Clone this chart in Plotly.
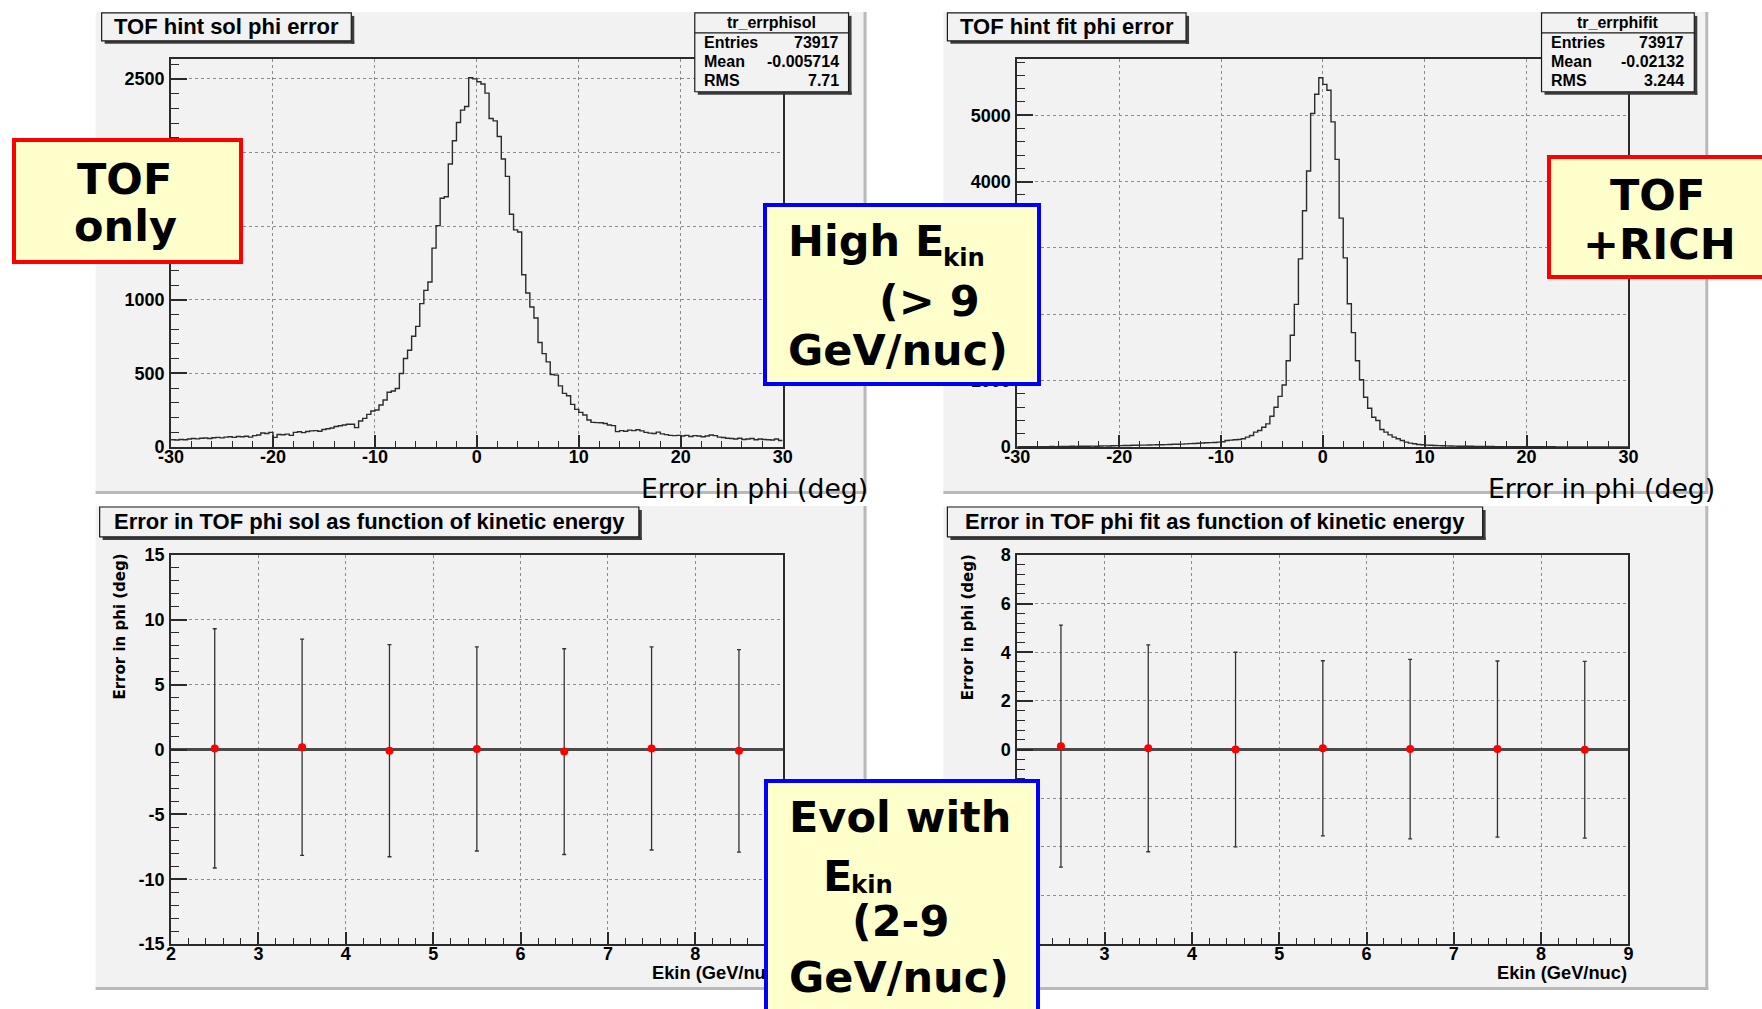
import numpy as np
import plotly.graph_objects as go

W, H = 1762, 1009

# ---------------- data ----------------
phi_lo, phi_hi = -30.0, 30.0   # histogram range (150 bins)

sol_counts = [
    50, 48, 52, 50, 55, 58, 56, 60, 62, 58,
    64, 66, 63, 68, 70, 66, 72, 70, 74, 68,
    78, 82, 96, 92, 100, 66, 86, 84, 88, 80,
    100, 104, 98, 106, 110, 112, 108, 120, 125, 130,
    140, 145, 150, 155, 155, 132, 177, 195, 222, 245,
    252, 286, 320, 372, 381, 398, 500, 602, 658, 753,
    820, 974, 1064, 1121, 1351, 1504, 1690, 1700, 1922, 2080,
    2204, 2288, 2312, 2508, 2500, 2480, 2465, 2403, 2231, 2215,
    2109, 1956, 1838, 1581, 1475, 1460, 1170, 1046, 951, 877,
    710, 635, 579, 493, 489, 416, 365, 349, 290, 256,
    236, 218, 184, 168, 166, 165, 160, 150, 146, 105,
    112, 108, 115, 112, 118, 110, 100, 95, 92, 102,
    90, 85, 80, 78, 80, 75, 80, 72, 78, 75,
    70, 75, 82, 78, 68, 65, 60, 58, 55, 60,
    52, 55, 58, 50, 55, 52, 50, 48, 55, 45,
]

fit_counts = [
    5, 6, 5, 7, 6, 8, 7, 8, 9, 8,
    10, 9, 11, 12, 10, 12, 14, 13, 15, 14,
    16, 18, 17, 20, 22, 22, 24, 25, 27, 28,
    30, 30, 32, 34, 35, 36, 38, 40, 42, 44,
    45, 48, 52, 55, 58, 62, 65, 68, 70, 75,
    80, 100, 105, 110, 115, 125, 150, 175, 225, 250,
    300, 350, 465, 600, 765, 935, 1300, 1685, 2150, 2835,
    3560, 4160, 5025, 5315, 5565, 5465, 5375, 4900, 4335, 3450,
    2850, 2160, 1725, 1300, 1015, 750, 585, 450, 400, 265,
    225, 185, 150, 125, 100, 75, 60, 50, 40, 35,
    30, 28, 25, 22, 20, 18, 17, 15, 14, 13,
    12, 12, 11, 10, 10, 9, 9, 8, 8, 8,
    7, 7, 7, 6, 6, 6, 6, 5, 5, 5,
    5, 5, 4, 4, 4, 4, 4, 4, 3, 3,
    3, 3, 3, 3, 3, 3, 2, 2, 2, 2,
]

ekin = [2.5, 3.5, 4.5, 5.5, 6.5, 7.5, 8.5]
sol_mean = [0.09, 0.18, -0.09, 0.05, -0.16, 0.09, -0.10]
sol_err = [9.22, 8.33, 8.17, 7.87, 7.93, 7.83, 7.80]
fit_mean = [0.14, 0.05, 0.00, 0.05, 0.02, 0.02, -0.01]
fit_err = [4.97, 4.25, 4.00, 3.60, 3.69, 3.62, 3.63]

hist_titles = ["TOF hint sol phi error", "TOF hint fit phi error"]
graph_titles = ["Error in TOF phi sol as function of kinetic energy",
                "Error in TOF phi fit as function of kinetic energy"]
stat_names = ["tr_errphisol", "tr_errphifit"]
stat_labels = ["Entries", "Mean", "RMS"]
stat_sol = ["73917", "-0.005714", "7.71"]
stat_fit = ["73917", "-0.02132", "3.244"]
hist_xtitle = "Error in phi (deg)"
graph_xtitle = "Ekin (GeV/nuc)"
graph_ytitle = "Error in phi (deg)"

phi_ticks = [-30, -20, -10, 0, 10, 20, 30]
sol_yticks = [0, 500, 1000, 1500, 2000, 2500]
fit_yticks = [0, 1000, 2000, 3000, 4000, 5000]
ekin_ticks = [2, 3, 4, 5, 6, 7, 8, 9]
sol_gticks = [-15, -10, -5, 0, 5, 10, 15]
fit_gticks = [-8, -6, -4, -2, 0, 2, 4, 6, 8]

# ---------------- placement helpers ----------------
# positions below are given in picture pixels; the page is photographed
# slightly shrunk about its centre, so compensate for that here.
BX, BY = 0.9884, 0.982
CX, CY = W / 2, H / 2


def px_x(s):
    return CX + (s - CX) / BX


def px_y(s):
    return CY + (s - CY) / BY


def fx(s):
    return px_x(s) / W


def fy(s):
    return 1 - px_y(s) / H


AX_COL = "#2a2a2a"
TICKFONT = dict(family="Liberation Sans", size=18, color="black", weight="bold")
ROOTFONT = "Liberation Sans"
BOXFONT = "DejaVu Sans"


def axis(domain_px, rng, tickvals, minor_dtick, anchor, horizontal, zeroline=False):
    a0, a1 = domain_px
    if horizontal:
        dom = [fx(a0), fx(a1)]
        tl, mtl, so = 12, 6, -8
    else:
        dom = [fy(a1), fy(a0)]
        tl, mtl, so = 16, 8, 1
    return dict(
        domain=dom, range=rng, anchor=anchor,
        tickmode="array", tickvals=tickvals,
        ticktext=[f"{t:g}" for t in tickvals],
        ticks="inside", ticklen=tl, tickwidth=1.5, tickcolor=AX_COL,
        minor=dict(ticks="inside", ticklen=mtl, tickwidth=1.2, tickcolor=AX_COL,
                   tickmode="linear", tick0=rng[0], dtick=minor_dtick, showgrid=False),
        showline=True, mirror=True, linecolor=AX_COL, linewidth=2,
        showgrid=True, gridcolor="#8c8c8c", griddash="dot", gridwidth=1,
        zeroline=zeroline, zerolinecolor="#4a4a4a", zerolinewidth=2.5,
        tickfont=TICKFONT, ticklabelstandoff=so, fixedrange=True,
    )


# frames in picture pixel coordinates: (x0, x1, y0, y1)
F_TL = (168.5, 781, 58.4, 447)
F_TR = (1016, 1628, 58.4, 447)
F_BL = (168.5, 781, 555, 945)
F_BR = (1016, 1628, 555, 945)

fig = go.Figure()

edges = np.linspace(phi_lo, phi_hi, len(sol_counts) + 1)
fig.add_trace(go.Scatter(x=edges, y=sol_counts + [sol_counts[-1]], mode="lines",
                         line=dict(shape="hv", color="#2b2b2b", width=1.4),
                         xaxis="x", yaxis="y", hoverinfo="skip"))
edges2 = np.linspace(phi_lo, phi_hi, len(fit_counts) + 1)
fig.add_trace(go.Scatter(x=edges2, y=fit_counts + [fit_counts[-1]], mode="lines",
                         line=dict(shape="hv", color="#2b2b2b", width=1.4),
                         xaxis="x2", yaxis="y2", hoverinfo="skip"))

for xs, ys, es, xa, ya in [(ekin, sol_mean, sol_err, "x3", "y3"),
                           (ekin, fit_mean, fit_err, "x4", "y4")]:
    fig.add_trace(go.Scatter(x=xs, y=ys, mode="markers",
                             marker=dict(color="#ff0000", size=8),
                             error_y=dict(type="data", array=es, color="#333333",
                                          thickness=1.3, width=2),
                             xaxis=xa, yaxis=ya, hoverinfo="skip"))

layout = dict(
    width=W, height=H, margin=dict(l=0, r=0, t=0, b=0),
    paper_bgcolor="white", plot_bgcolor="#f2f2f2", showlegend=False,
    xaxis=axis((F_TL[0], F_TL[1]), [phi_lo, phi_hi], phi_ticks, 2, "y", True),
    yaxis=axis((F_TL[2], F_TL[3]), [0, 1.05 * max(sol_counts)], sol_yticks, 100, "x", False),
    xaxis2=axis((F_TR[0], F_TR[1]), [phi_lo, phi_hi], phi_ticks, 2, "y2", True),
    yaxis2=axis((F_TR[2], F_TR[3]), [0, 1.05 * max(fit_counts)], fit_yticks, 200, "x2", False),
    xaxis3=axis((F_BL[0], F_BL[1]), [2, 9], ekin_ticks, 0.2, "y3", True),
    yaxis3=axis((F_BL[2], F_BL[3]), [-15, 15], sol_gticks, 1, "x3", False, zeroline=True),
    xaxis4=axis((F_BR[0], F_BR[1]), [2, 9], ekin_ticks, 0.2, "y4", True),
    yaxis4=axis((F_BR[2], F_BR[3]), [-8, 8], fit_gticks, 0.4, "x4", False, zeroline=True),
)
fig.update_layout(**layout)

shapes = []


def rect(x0, x1, y0, y1, **kw):
    return dict(type="rect", xref="paper", yref="paper",
                x0=fx(x0), x1=fx(x1), y0=fy(y1), y1=fy(y0), **kw)


# pads
for (x0, x1, y0, y1) in [(93, 865, 11, 494), (942, 1708, 11, 494),
                         (93, 865, 506, 991), (942, 1708, 506, 991)]:
    shapes.append(rect(x0, x1, y0, y1, fillcolor="#f2f2f2", line=dict(width=0), layer="below"))
    shapes.append(rect(x1 - 3, x1, y0, y1, fillcolor="#b9b9b9", line=dict(width=0), layer="below"))
    shapes.append(rect(x0, x1, y1 - 3, y1, fillcolor="#b9b9b9", line=dict(width=0), layer="below"))


def root_box(x0, x1, y0, y1, header_y=None):
    out = [
        rect(x0 + 3, x1 + 3, y1, y1 + 3, fillcolor="#3c3c3c", line=dict(width=0), layer="above"),
        rect(x1, x1 + 3, y0 + 3, y1 + 3, fillcolor="#3c3c3c", line=dict(width=0), layer="above"),
        rect(x0, x1, y0, y1, fillcolor="#f2f2f2", line=dict(color="#1a1a1a", width=1.2), layer="above"),
    ]
    if header_y is not None:
        out.append(dict(type="line", xref="paper", yref="paper", x0=fx(x0), x1=fx(x1),
                        y0=fy(header_y), y1=fy(header_y),
                        line=dict(color="#1a1a1a", width=1.2), layer="above"))
    return out


title_boxes = [(99, 349, 12, 40), (946, 1185, 12, 40), (97, 637, 507, 537), (946, 1482, 507, 537)]
for b in title_boxes:
    shapes += root_box(*b)
stat_boxes = [(693, 847, 12, 91), (1541, 1694, 12, 91)]
for b in stat_boxes:
    shapes += root_box(*b, header_y=32)

annotations = []


def txt(px, py, s, size, family, bold=True, xanchor="center", yanchor="middle", angle=0):
    f = dict(family=family, size=size, color="black")
    if bold:
        f["weight"] = "bold"
    return dict(x=fx(px), y=fy(py), xref="paper", yref="paper", text=s, showarrow=False,
                xanchor=xanchor, yanchor=yanchor, font=f, textangle=angle, borderpad=0)


# titles
for b, s in zip(title_boxes, hist_titles + graph_titles):
    annotations.append(txt((b[0] + b[1]) / 2, (b[2] + b[3]) / 2, s, 22, ROOTFONT))

# stats boxes
for b, name, vals in zip(stat_boxes, stat_names, [stat_sol, stat_fit]):
    annotations.append(txt((b[0] + b[1]) / 2, 22, name, 16, ROOTFONT))
    for i, (lab, v) in enumerate(zip(stat_labels, vals)):
        yy = 42 + 19 * i
        annotations.append(txt(b[0] + 8, yy, lab, 16, ROOTFONT, xanchor="left"))
        annotations.append(txt(b[1] - 9, yy, v, 16, ROOTFONT, xanchor="right"))

# axis titles
annotations.append(txt(867, 488, hist_xtitle, 26.7, BOXFONT, bold=False, xanchor="right"))
annotations.append(txt(1716, 488, hist_xtitle, 26.7, BOXFONT, bold=False, xanchor="right"))
annotations.append(txt(F_BL[1], 973, graph_xtitle, 18.3, ROOTFONT, xanchor="right"))
annotations.append(txt(F_BR[1], 973, graph_xtitle, 18.3, ROOTFONT, xanchor="right"))
annotations.append(txt(117, 553, graph_ytitle, 15, BOXFONT, yanchor="top", angle=-90))
annotations.append(txt(967, 553, graph_ytitle, 15, BOXFONT, yanchor="top", angle=-90))


def ybox(x0, x1, y0, y1, color, bw=4):
    return dict(x=fx(x0), y=fy(y0), xref="paper", yref="paper", xanchor="left", yanchor="top",
                text=" ", showarrow=False,
                width=(px_x(x1) - px_x(x0)) - 2 * bw, height=(px_y(y1) - px_y(y0)) - 2 * bw,
                bgcolor="#ffffcc", bordercolor=color, borderwidth=bw, borderpad=0)


annotations.append(ybox(9, 237, 137, 261, "#ff0000"))
annotations.append(ybox(761, 1036, 202, 382, "#0000ff"))
annotations.append(ybox(762, 1035, 780, 1013, "#0000ff"))
annotations.append(ybox(1546, 1772, 154, 276, "#ff0000"))

BF = 43
SF = 24.3
annotations += [
    txt(122, 178, "TOF", BF, BOXFONT),
    txt(123, 225.5, "only", BF, BOXFONT),
    txt(785, 241, "High E", BF, BOXFONT, xanchor="left"),
    txt(941, 257.5, "kin", SF, BOXFONT, xanchor="left"),
    txt(928, 300.5, "(&gt; 9", BF, BOXFONT),
    txt(897, 349.5, "GeV/nuc)", BF, BOXFONT),
    txt(898.5, 818, "Evol with", BF, BOXFONT),
    txt(820, 877, "E", BF, BOXFONT, xanchor="left"),
    txt(848, 885, "kin", SF, BOXFONT, xanchor="left"),
    txt(899, 921.5, "(2-9", BF, BOXFONT),
    txt(898, 978, "GeV/nuc)", BF, BOXFONT),
    txt(1657, 194, "TOF", BF, BOXFONT),
    txt(1659, 244, "+RICH", BF, BOXFONT),
]

fig.update_layout(shapes=shapes, annotations=annotations)
fig.write_html(
    "out.html",
    config={"displayModeBar": False},
    post_script=("document.body.style.margin='0px';"
                 "document.body.style.padding='0px';"
                 "document.documentElement.style.overflow='hidden';"),
)
